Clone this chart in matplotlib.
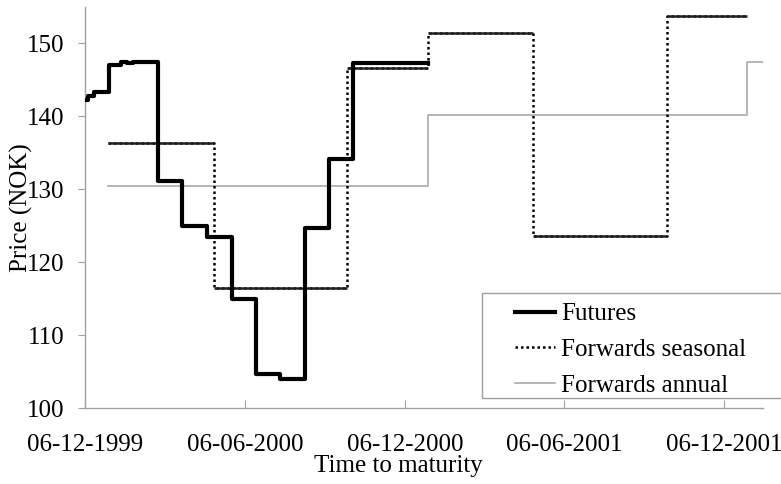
import matplotlib
matplotlib.use('Agg')
import matplotlib.pyplot as plt
from matplotlib.patches import Rectangle
import numpy as np
from datetime import datetime

# weekly futures prices (step starts), last value repeated at the end
futures_dates = ['1999-12-06', '1999-12-10', '1999-12-16', '2000-01-02', '2000-01-16',
                 '2000-01-23', '2000-01-30', '2000-02-27', '2000-03-26', '2000-04-24',
                 '2000-05-22', '2000-06-19', '2000-07-16', '2000-08-14', '2000-09-10',
                 '2000-10-07', '2001-01-01']
futures_prices = [142.2, 142.8, 143.3, 147.1, 147.5, 147.3, 147.5, 131.1, 125.0, 123.5,
                  115.0, 104.6, 104.0, 124.7, 134.2, 147.3, 147.3]

# seasonal forwards (winter / summer)
seasonal_dates = ['2000-01-01', '2000-05-01', '2000-10-01', '2001-01-01', '2001-05-01',
                  '2001-10-01', '2002-01-01']
seasonal_prices = [136.4, 116.5, 146.7, 151.5, 123.6, 153.8, 153.8]

# annual forwards
annual_dates = ['2000-01-01', '2001-01-01', '2002-01-01', '2002-01-19']
annual_prices = [130.4, 140.2, 147.4, 147.4]

tick_dates = ['1999-12-06', '2000-06-06', '2000-12-06', '2001-06-06', '2001-12-06']
tick_labels = ['06-12-1999', '06-06-2000', '06-12-2000', '06-06-2001', '06-12-2001']

def to_dt(lst):
    return [datetime.strptime(d, '%Y-%m-%d') for d in lst]

plt.rcParams['font.family'] = ['Liberation Serif', 'DejaVu Serif']
plt.rcParams['font.size'] = 18

fig = plt.figure(figsize=(7.81, 4.84), dpi=100)
ax = fig.add_axes([0.1088, 0.157, 0.868, 0.8285])

fd = to_dt(futures_dates)
sd = to_dt(seasonal_dates)
ad = to_dt(annual_dates)

ax.step(ad, annual_prices, where='post', color='#b0b0b0', lw=1.3, label='Forwards annual', zorder=2)
ax.step(sd, seasonal_prices, where='post', color='black', lw=1.8, ls=(0, (1, 1.2)),
        label='Forwards seasonal', zorder=3)
# horizontal parts of the seasonal curve appear solid in the original
ax.hlines(seasonal_prices[:-1], sd[:-1], sd[1:], color='#202020', lw=1.8, zorder=3)
ax.step(fd, futures_prices, where='post', color='black', lw=3, label='Futures', zorder=4)

ax.set_xlim(datetime(1999, 12, 6), datetime(2002, 1, 19))
ax.set_ylim(100, 155)
ax.set_yticks(np.arange(100, 151, 10))
ax.set_xticks(to_dt(tick_dates))
ax.set_xticklabels(tick_labels)

for s in ['top', 'right']:
    ax.spines[s].set_visible(False)
for s in ['left', 'bottom']:
    ax.spines[s].set_color('#a0a0a0')
    ax.spines[s].set_linewidth(1)

ax.tick_params(axis='x', direction='in', length=6, color='#a0a0a0', pad=19)
ax.tick_params(axis='y', direction='out', length=5, color='#a0a0a0', pad=10)

ax.set_ylabel('Price (NOK)', va='center')
ax.yaxis.set_label_coords(-0.094, 0.5)
ax.set_xlabel('Time to maturity')
ax.xaxis.set_label_coords(0.463, -0.117)
ax.xaxis.label.set_va('top')

# legend box (runs off the right edge like the original)
fig.patches.append(Rectangle((482 / 781, 1 - 398 / 484), 0.5, 105 / 484,
                             transform=fig.transFigure, fill=False,
                             edgecolor='#a0a0a0', lw=1, zorder=5))
h, l = ax.get_legend_handles_labels()
order = [2, 1, 0]
ax.legend([h[i] for i in order], [l[i] for i in order],
          loc='upper left', bbox_to_anchor=(515 / 781, 1 - 303 / 484),
          bbox_transform=fig.transFigure, frameon=False, borderaxespad=0,
          borderpad=0, handlelength=1.6, handletextpad=0.25, labelspacing=0.52)

fig.savefig('out.png', dpi=100)
